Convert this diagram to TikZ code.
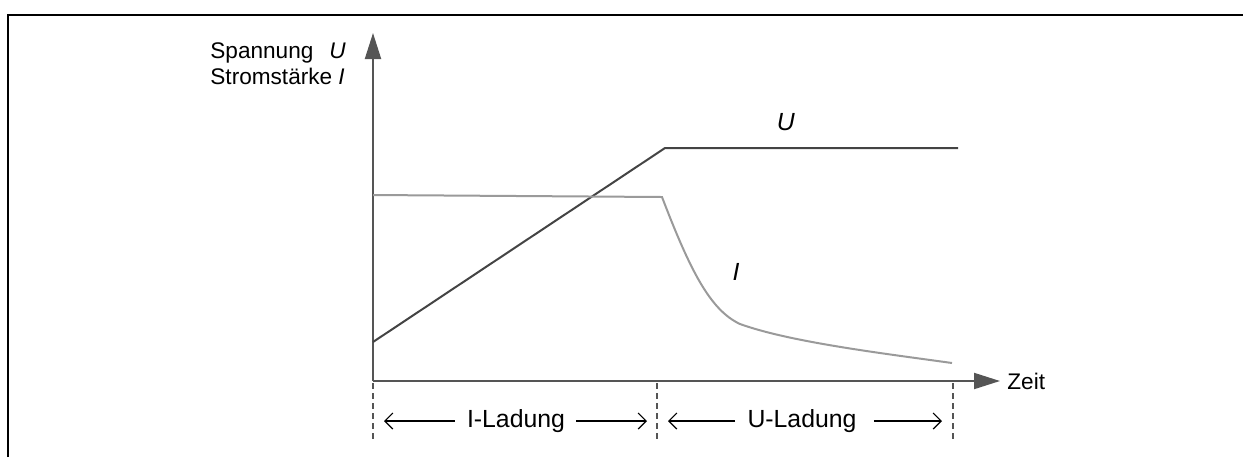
\documentclass[tikz,border=0pt]{standalone}
\usepackage{fontspec}
\setmainfont{Liberation Sans}
\usetikzlibrary{arrows.meta}
\definecolor{ucol}{HTML}{444444}
\definecolor{icol}{HTML}{9A9A9A}
\definecolor{axcol}{HTML}{555555}

\begin{document}
\begin{tikzpicture}[x=0.5pt,y=-0.5pt,
		axis/.style={draw=axcol,line width=1pt,-{Triangle[length=13pt,width=8pt]}},
		divider/.style={draw=axcol,line width=0.6pt,dash pattern=on 3pt off 2pt},
		span/.style={line width=0.6pt,-{Straight Barb[length=4pt,width=8pt]}},
		lbl/.style={font=\fontsize{11.3}{13}\selectfont,inner sep=0pt},
		biglbl/.style={font=\fontsize{12.4}{14}\selectfont,inner sep=0pt}]
		\useasboundingbox (0,0) rectangle (1243,457);
		\draw[line width=1.1pt] (8,457) -- (8,15) -- (1243,15); %Frame
		\coordinate (o) at (373,381);
		\coordinate (d1) at (657,381);
		\coordinate (d2) at (953,381);
		\draw[axis] (o) -- (373,33); %y-Axis
		\draw[axis] (o) -- (1000,381); %x-Axis
		\foreach \d in {o,d1,d2}
			\draw[divider] ([yshift=-1pt]\d) -- ++(0,56);
		\node[lbl,anchor=base west] (sp) at (210,58) {Spannung\hspace{8pt}\textit{U}};
		\node[lbl,anchor=base west] (st) at (210,84) {Stromstärke \textit{I}};
		\node[lbl,anchor=west] (zeit) at (1007,381) {Zeit};
		%Curves
		\draw[ucol,line width=1pt] (373,342) -- (665,148) -- (958,148);
		\draw[icol,line width=1pt] (373,195) -- (662,197)
			.. controls (690,270) and (710,310) .. (740,324)
			.. controls (790,342) and (880,353) .. (952,363);
		\node[biglbl] (ul) at (786,122) {\textit{U}};
		\node[biglbl] (il) at (736,272) {\textit{I}};
		%Phases
		\node[biglbl] (iLad) at (516,421) {I-Ladung};
		\node[biglbl] (uLad) at (802,421) {U-Ladung};
		\draw[span,shorten <=6pt,shorten >=5.5pt] (iLad.west) -- (iLad.west -| o);
		\draw[span,shorten <=5.5pt,shorten >=5pt] (iLad.east) -- (iLad.east -| d1);
		\draw[span,shorten <=6pt,shorten >=5.5pt] (uLad.west) -- (uLad.west -| d1);
		\draw[span,shorten <=8.5pt,shorten >=5.5pt] (uLad.east) -- (uLad.east -| d2);
	\end{tikzpicture}
\end{document}
